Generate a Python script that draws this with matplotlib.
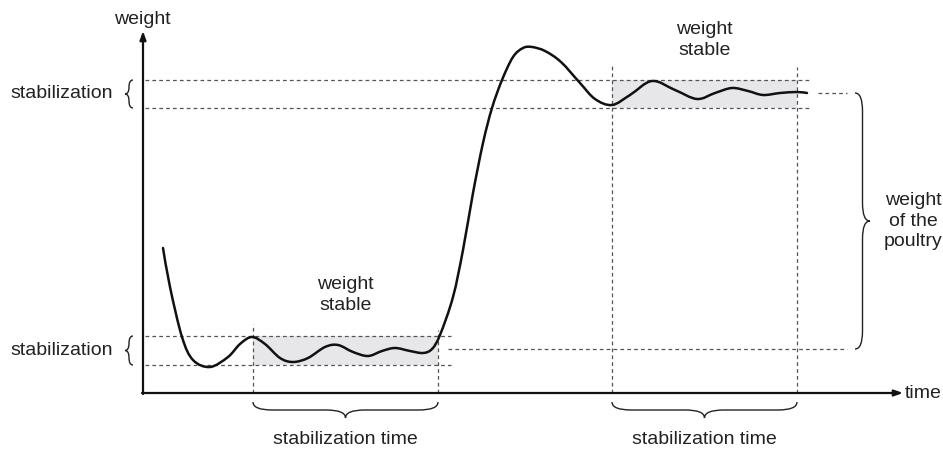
import matplotlib
matplotlib.use("Agg")
import matplotlib.pyplot as plt
from matplotlib.path import Path
from matplotlib.patches import PathPatch, Rectangle
import numpy as np

plt.rcParams["font.family"] = ["Liberation Sans", "DejaVu Sans"]

# weight curve (time, weight), axis origin at (0, 0)
curve_time = [20, 27, 39, 50, 67, 85, 97, 109, 122, 137, 150, 165, 182, 195, 210, 225,
              239, 252, 267, 280, 289, 297, 310, 320, 330, 340, 349, 359, 370, 380, 389,
              402, 418, 437, 452, 469, 487, 509, 532, 554, 572, 589, 605, 620, 637, 654, 664]
curve_weight = [145, 106, 56, 33, 26, 36, 49, 56, 49, 35, 31, 35, 46, 48, 41, 37,
                42, 45, 42, 40, 44, 58, 96, 143, 200, 250, 285, 313, 336, 345, 346,
                342, 331, 310, 294, 288, 298, 312, 303, 294, 300, 305, 302, 298, 300, 301, 300]

# stabilization bands (weight low, high) and windows (time start, end)
band_low = (28, 57)
band_high = (285, 313)
window_low = (110, 295)
window_high = (469, 654)
level_start = 44
level_end = 300

GRAY = "#555555"
FILL = "#e7e7ea"
INK = "#222222"


def smooth_path(xs, ys):
    # cubic bezier through the read points (catmull-rom tangents)
    p = np.column_stack([xs, ys]).astype(float)
    n = len(p)
    verts = [tuple(p[0])]
    codes = [Path.MOVETO]
    for i in range(n - 1):
        p0 = p[max(i - 1, 0)]
        p1 = p[i]
        p2 = p[i + 1]
        p3 = p[min(i + 2, n - 1)]
        c1 = p1 + (p2 - p0) / 6.0
        c2 = p2 - (p3 - p1) / 6.0
        verts += [tuple(c1), tuple(c2), tuple(p2)]
        codes += [Path.CURVE4] * 3
    return Path(verts, codes)


def brace(ax, a, b, base, depth, vertical=False, lw=1.0):
    # curly brace from a to b along one axis, tip at base + depth
    m = (a + b) / 2.0
    h = depth / 2.0
    r = min(abs(depth) * 1.2, abs(b - a) / 4.0) * np.sign(b - a)
    pts = [(a, 0), (a, h), (a + r, h), (m - r, h), (m, h), (m, depth),
           (m, h), (m + r, h), (b - r, h), (b, h), (b, 0)]
    codes = [Path.MOVETO, Path.CURVE3, Path.CURVE3, Path.LINETO, Path.CURVE3, Path.CURVE3,
             Path.CURVE3, Path.CURVE3, Path.LINETO, Path.CURVE3, Path.CURVE3]
    if vertical:
        verts = [(base + o, s) for s, o in pts]
    else:
        verts = [(s, base + o) for s, o in pts]
    ax.add_patch(PathPatch(Path(verts, codes), fill=False, lw=lw, color=INK))


fig = plt.figure(figsize=(9.43, 4.5), dpi=100)
ax = fig.add_axes([0, 0, 1, 1])
ax.set_xlim(-143, 800)
ax.set_ylim(-57, 393)
ax.axis("off")

dash = dict(color=GRAY, lw=0.9, dashes=(3, 2.5))

# shaded stabilization windows
for (t0, t1), (w0, w1) in [(window_low, band_low), (window_high, band_high)]:
    ax.add_patch(Rectangle((t0, w0), t1 - t0, w1 - w0, facecolor=FILL, edgecolor="none", zorder=0))

# band lines
for w in band_low:
    ax.plot([2, 308], [w, w], **dash)
for w in band_high:
    ax.plot([2, 667], [w, w], **dash)

# window verticals
ax.plot([window_low[0]] * 2, [0, 69], **dash)
ax.plot([window_low[1]] * 2, [0, 63], **dash)
ax.plot([window_high[0]] * 2, [0, 330], **dash)
ax.plot([window_high[1]] * 2, [0, 326], **dash)

# reference levels
ax.plot([675, 704], [level_end, level_end], **dash)
ax.plot([305, 704], [level_start, level_start], **dash)

# curve
ax.add_patch(PathPatch(smooth_path(curve_time, curve_weight), fill=False, lw=1.8,
                       edgecolor="#111111", capstyle="round", joinstyle="round", zorder=3))

# axes with arrows
arrow = dict(arrowstyle="-|>,head_length=0.5,head_width=0.18", lw=1.6, color="#111111",
             shrinkA=0, shrinkB=0)
ax.annotate("", xy=(0, 362), xytext=(0, -1), arrowprops=arrow)
ax.annotate("", xy=(760, 0), xytext=(-1, 0), arrowprops=arrow)

# braces
brace(ax, window_low[0], window_low[1], -9, -16)
brace(ax, window_high[0], window_high[1], -9, -16)
brace(ax, band_low[0], band_low[1], -10, -8, vertical=True)
brace(ax, band_high[0], band_high[1], -10, -8, vertical=True)
brace(ax, level_end, level_start, 712, 15, vertical=True)

fs = 14
ax.text(-1, 373, "weight", ha="center", va="center", fontsize=fs, color=INK)
ax.text(762, 0, "time", ha="left", va="center", fontsize=fs, color=INK)
ax.text(-30, sum(band_high) / 2, "stabilization", ha="right", va="center", fontsize=fs, color=INK)
ax.text(-30, sum(band_low) / 2, "stabilization", ha="right", va="center", fontsize=fs, color=INK)
ax.text(sum(window_low) / 2, 98, "weight\nstable", ha="center", va="center", fontsize=fs,
        color=INK, linespacing=1.25)
ax.text(sum(window_high) / 2, 353, "weight\nstable", ha="center", va="center", fontsize=fs,
        color=INK, linespacing=1.25)
ax.text(sum(window_low) / 2, -47, "stabilization time", ha="center", va="center", fontsize=fs,
        color=INK)
ax.text(sum(window_high) / 2, -47, "stabilization time", ha="center", va="center", fontsize=fs,
        color=INK)
ax.text(770, 172, "weight\nof the\npoultry", ha="center", va="center", fontsize=fs,
        color=INK, linespacing=1.25)

fig.savefig("out.png", dpi=100)
